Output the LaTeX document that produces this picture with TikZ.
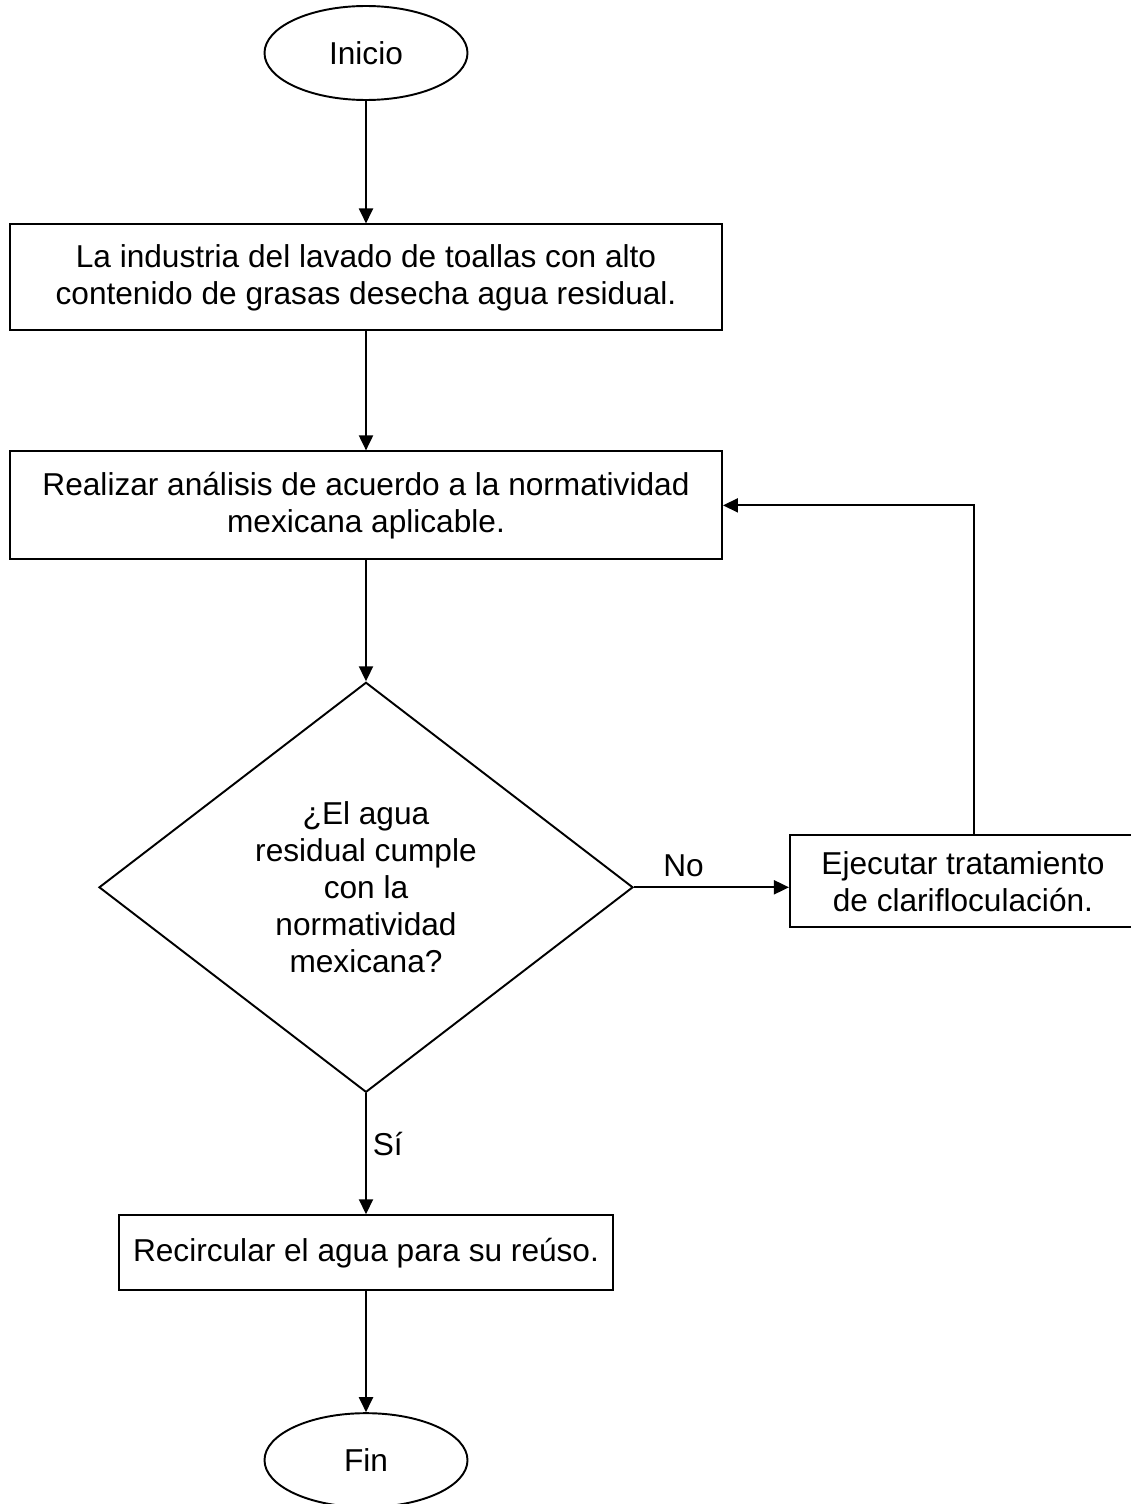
\documentclass[tikz,border=0pt]{standalone}
\usepackage{fontspec}
\setmainfont{Liberation Sans}
\usetikzlibrary{arrows.meta,positioning,shapes.geometric}

\begin{document}
\begin{tikzpicture}[
    node distance=2.42cm,
    every node/.style={font=\fontsize{18}{21}\selectfont},
    terminal/.style={draw, ellipse, line width=1.1pt, minimum width=4.06cm, minimum height=1.88cm, inner sep=0pt},
    proceso/.style={draw, line width=1.1pt, align=center, inner sep=0pt},
    pregunta/.style={draw, diamond, aspect=1.3, line width=1.1pt, align=center, minimum width=10.68cm, minimum height=8.2cm, inner sep=0pt},
    flecha/.style={-{Triangle[length=0.3cm, width=0.28cm]}, line width=1.1pt}
]
\useasboundingbox (0,0) rectangle (22.6,-30.08);
\node[terminal] (inicio) at (7.32,-1.06) {Inicio};
\node[proceso, below=2.45cm of inicio, minimum width=14.24cm, minimum height=2.12cm] (industria) {La industria del lavado de toallas con alto\\contenido de grasas desecha agua residual.};
\node[proceso, below=2.38cm of industria, minimum width=14.24cm, minimum height=2.16cm] (analisis) {Realizar análisis de acuerdo a la normatividad\\mexicana aplicable.};
\node[pregunta, below=of analisis] (cumple) {¿El agua\\residual cumple\\con la\\normatividad\\mexicana?};
\node[proceso, right=3.1cm of cumple, minimum width=6.92cm, minimum height=1.84cm, yshift=0.12cm] (clarif) {Ejecutar tratamiento\\de clarifloculación.};
\node[proceso, below=of cumple, minimum width=9.88cm, minimum height=1.5cm] (recircular) {Recircular el agua para su reúso.};
\node[terminal, below=of recircular] (fin) {Fin};
\draw[flecha] (inicio) -- (industria);
\draw[flecha] (industria) -- (analisis);
\draw[flecha] (analisis) -- (cumple);
\draw[flecha] (cumple.east) -- node[above, pos=0.32, yshift=2pt] {No} (cumple.east -| clarif.west);
\draw[flecha] ([xshift=0.22cm]clarif.north) |- (analisis.east);
\draw[flecha] (cumple.south) -- node[right, pos=0.42] {Sí} (recircular.north);
\draw[flecha] (recircular) -- (fin);
\end{tikzpicture}
\end{document}
